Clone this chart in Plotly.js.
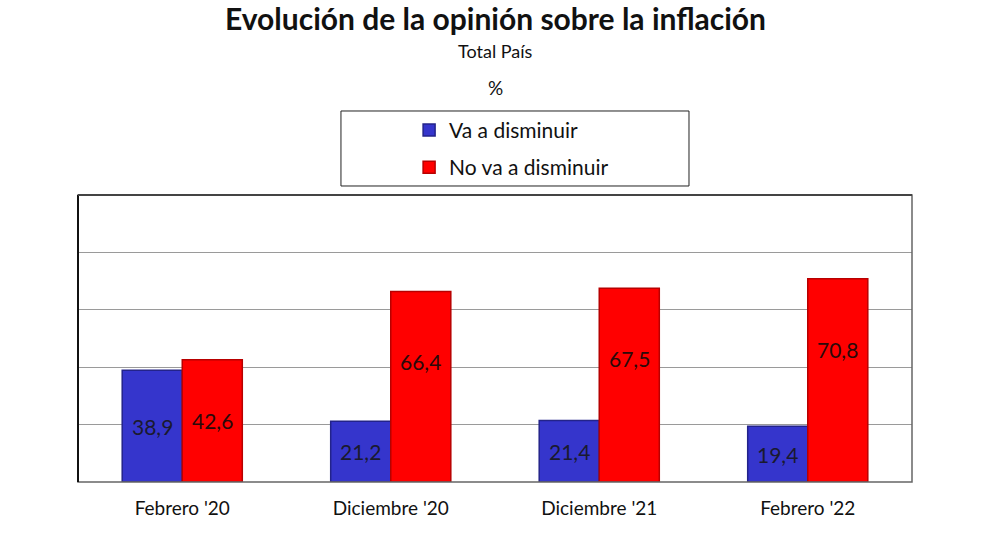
<!DOCTYPE html>
<html>
<head>
<meta charset="utf-8">
<script src="https://cdn.plot.ly/plotly-3.0.1.min.js"></script>
<style>html,body{margin:0;padding:0;background:#fff;}#chart{width:982px;height:553px;}</style>
</head>
<body>
<div id="chart"></div>
<script>
const categories = ["Febrero '20", "Diciembre '20", "Diciembre '21", "Febrero '22"];
const vaADisminuir = [38.9, 21.2, 21.4, 19.4];
const noVaADisminuir = [42.6, 66.4, 67.5, 70.8];
const seriesNames = ["Va a disminuir", "No va a disminuir"];

const fmt = v => v.toFixed(1).replace('.', ',');
const FONT = "Lato, 'Open Sans', sans-serif";

const traces = [
  {
    type: 'bar', name: seriesNames[0], x: categories, y: vaADisminuir,
    marker: {color: '#3535CC', line: {color: '#23238a', width: 1.5}},
    legendgroup: 'a', hoverinfo: 'skip'
  },
  {
    type: 'bar', name: seriesNames[1], x: categories, y: noVaADisminuir,
    marker: {color: '#FF0000', line: {color: '#B80000', width: 1.5}},
    legendgroup: 'b', hoverinfo: 'skip'
  }
];

// label placement: centred in short bars, a fixed depth below the top in tall bars
const labelY = v => Math.max(v / 2, v - 24.5);
const labelAnns = [];
[[vaADisminuir, -30, '#1a1a2e'], [noVaADisminuir, 30, '#2a0a0a']].forEach(([vals, shift, col]) => {
  vals.forEach((v, i) => {
    labelAnns.push({
      text: fmt(v), x: categories[i], y: labelY(v), xref: 'x', yref: 'y',
      xshift: shift, showarrow: false, yanchor: 'middle',
      font: {size: 21, family: FONT, color: col}
    });
  });
});

const layout = {
  width: 982, height: 553,
  margin: {l: 78, r: 70, t: 195, b: 71},
  paper_bgcolor: '#fff', plot_bgcolor: '#fff',
  font: {family: FONT, color: '#111'},
  barmode: 'group', bargap: 0.424, bargroupgap: 0,
  showlegend: true,
  legend: {
    x: 0.397, xanchor: 'left', y: 1.297, yanchor: 'top',
    font: {size: 21, family: FONT, color: '#111'},
    traceorder: 'grouped', tracegroupgap: 7,
    itemwidth: 30,
    bgcolor: 'rgba(0,0,0,0)', borderwidth: 0
  },
  xaxis: {
    showgrid: false, zeroline: false, showline: false,
    tickfont: {size: 19, family: FONT, color: '#111'},
    ticks: 'outside', ticklen: 9, tickcolor: 'rgba(0,0,0,0)'
  },
  yaxis: {
    range: [0, 100], dtick: 20, showticklabels: false, ticks: '',
    showgrid: true, gridcolor: '#9a9a9a', gridwidth: 1, zeroline: false, showline: false
  },
  shapes: [
    {type: 'rect', xref: 'paper', yref: 'paper', x0: 0, x1: 1, y0: 0, y1: 1, line: {color: '#666', width: 1.5}},
    {type: 'line', xref: 'paper', yref: 'paper', x0: 0, x1: 0, y0: 0, y1: 1, line: {color: '#111', width: 2}},
    {type: 'line', xref: 'paper', yref: 'paper', x0: 0, x1: 1, y0: 1, y1: 1, line: {color: '#444', width: 2}},
    {type: 'rect', xref: 'paper', yref: 'paper', x0: 0.3153, x1: 0.7326, y0: 1.0314, y1: 1.2927, line: {color: '#222', width: 1}}
  ],
  annotations: [
    {text: '<b>Evolución de la opinión sobre la inflación</b>', xref: 'paper', yref: 'paper', x: 0.5, y: 1.617, yanchor: 'middle', showarrow: false, font: {size: 30, family: FONT, color: '#111'}},
    {text: 'Total País', xref: 'paper', yref: 'paper', x: 0.5, y: 1.502, yanchor: 'middle', showarrow: false, font: {size: 18, family: FONT, color: '#111'}},
    {text: '%', xref: 'paper', yref: 'paper', x: 0.5, y: 1.373, yanchor: 'middle', showarrow: false, font: {size: 19, family: FONT, color: '#111'}}
  ].concat(labelAnns)
};

Plotly.newPlot('chart', traces, layout, {displayModeBar: false, staticPlot: true});
</script>
</body>
</html>
